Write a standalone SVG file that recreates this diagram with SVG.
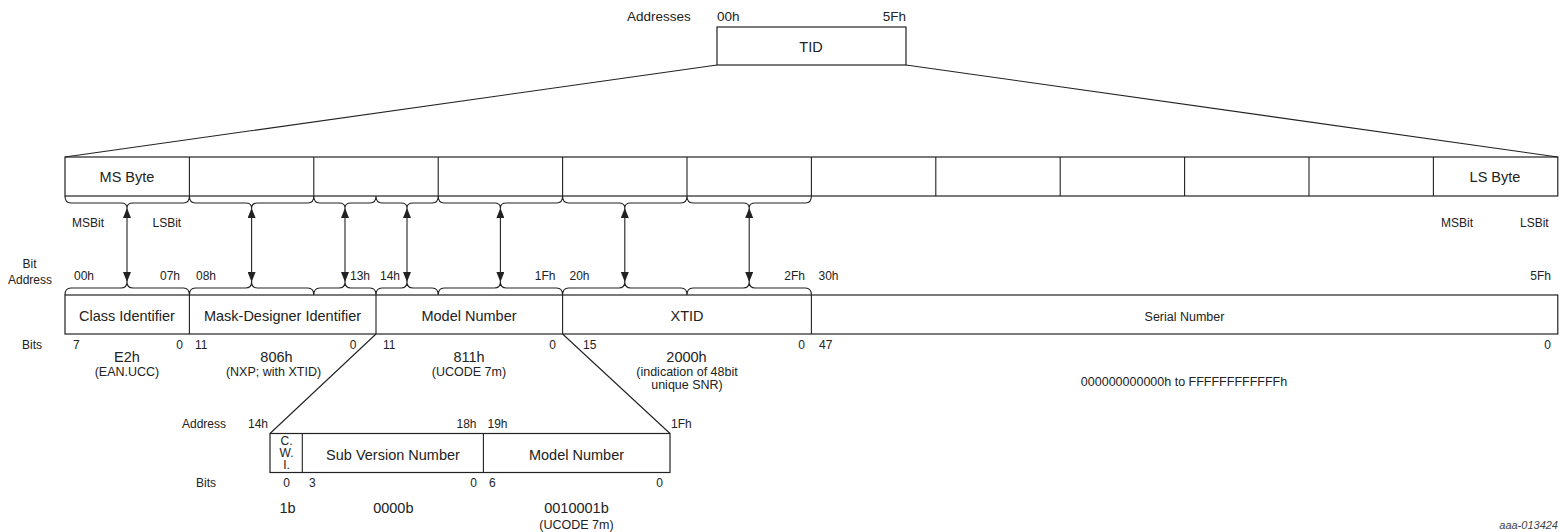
<svg xmlns="http://www.w3.org/2000/svg" width="1560" height="532" viewBox="0 0 1560 532">
<defs>
<style>
text{font-family:"Liberation Sans",Arial,sans-serif;fill:#222}
.lg{font-size:14.5px}
.md{font-size:13.5px}
.sm{font-size:12px}
.vs{font-size:12.5px}
.c{text-anchor:middle}
.e{text-anchor:end}
.box{fill:#fff;stroke:#222;stroke-width:1.2}
.ln{fill:none;stroke:#222;stroke-width:1.1}
.br{fill:none;stroke:#222;stroke-width:1.1}
.ar{stroke:#222;stroke-width:1.1;marker-start:url(#ah);marker-end:url(#ah)}
.ref{font-size:11px;font-style:italic;fill:#444}
</style>
<marker id="ah" viewBox="0 0 10 8" refX="10" refY="4" markerWidth="10" markerHeight="8" markerUnits="userSpaceOnUse" orient="auto-start-reverse">
<path d="M0,0 L10,4 L0,8 Z" fill="#222"/>
</marker>
</defs>

<g id="tid">
<text class="md" x="627" y="20.5">Addresses</text>
<text class="md" x="717" y="20.5">00h</text>
<text class="md e" x="906" y="20.5">5Fh</text>
<rect class="box" x="717" y="27" width="189" height="38"/>
<text class="lg c" x="811" y="52">TID</text>
</g>

<g id="byte-row">
<rect class="box" x="65" y="157" width="1492.8" height="39"/>
<path class="ln" d="M189.4,157V196M313.8,157V196M438.2,157V196M562.6,157V196M687,157V196M811.4,157V196M935.8,157V196M1060.2,157V196M1184.6,157V196M1309,157V196M1433.4,157V196"/>
<text class="lg c" x="127" y="182">MS Byte</text>
<text class="lg c" x="1495" y="182">LS Byte</text>
</g>

<g id="bit-labels">
<text class="sm" x="72" y="227">MSBit</text>
<text class="sm" x="152.5" y="227">LSBit</text>
<text class="sm" x="1441" y="227">MSBit</text>
<text class="sm" x="1520" y="227">LSBit</text>
<text class="sm c" x="29.5" y="268">Bit</text>
<text class="sm c" x="30" y="284">Address</text>
<text class="sm" x="74" y="280">00h</text>
<text class="sm e" x="180" y="280">07h</text>
<text class="sm" x="196" y="280">08h</text>
<text class="sm e" x="370" y="280">13h</text>
<text class="sm" x="380" y="280">14h</text>
<text class="sm e" x="555.5" y="280">1Fh</text>
<text class="sm" x="569.5" y="280">20h</text>
<text class="sm e" x="805" y="280">2Fh</text>
<text class="sm" x="818.5" y="280">30h</text>
<text class="sm e" x="1551" y="280">5Fh</text>
</g>

<g id="fields">
<rect class="box" x="65" y="295" width="1492.8" height="39"/>
<path class="ln" d="M189.4,295V334M376,295V334M562.6,295V334M811.4,295V334"/>
<text class="lg c" x="127" y="321">Class Identifier</text>
<text class="lg c" x="282.5" y="321">Mask-Designer Identifier</text>
<text class="lg c" x="469" y="321">Model Number</text>
<text class="lg c" x="687" y="321">XTID</text>
<text class="vs c" x="1184.5" y="321">Serial Number</text>
<text class="sm" x="22" y="349">Bits</text>
<text class="sm" x="73" y="349">7</text>
<text class="sm e" x="183" y="349">0</text>
<text class="sm" x="195" y="349">11</text>
<text class="sm e" x="356.5" y="349">0</text>
<text class="sm" x="383" y="349">11</text>
<text class="sm e" x="556" y="349">0</text>
<text class="sm" x="583" y="349">15</text>
<text class="sm e" x="805" y="349">0</text>
<text class="sm" x="819" y="349">47</text>
<text class="sm e" x="1551" y="349">0</text>
<text class="lg c" x="127" y="361.5">E2h</text>
<text class="vs c" x="127" y="375.5">(EAN.UCC)</text>
<text class="lg c" x="276.5" y="361.5">806h</text>
<text class="vs c" x="273.5" y="375.5">(NXP; with XTID)</text>
<text class="lg c" x="469" y="361.5">811h</text>
<text class="vs c" x="469" y="375.5">(UCODE 7m)</text>
<text class="lg c" x="686.5" y="361.5">2000h</text>
<text class="vs c" x="687" y="375.5">(indication of 48bit</text>
<text class="vs c" x="687" y="388.5">unique SNR)</text>
<text class="vs c" x="1184" y="386">000000000000h to FFFFFFFFFFFFh</text>
</g>

<g id="sub-model-number">
<text class="sm" x="182" y="427.5">Address</text>
<text class="sm e" x="268" y="427.5">14h</text>
<text class="sm e" x="476.5" y="427.5">18h</text>
<text class="sm" x="487.5" y="427.5">19h</text>
<text class="sm" x="671" y="427.5">1Fh</text>
<rect class="box" x="270" y="433.5" width="400" height="39"/>
<path class="ln" d="M302.3,433.5V472.5M483.4,433.5V472.5"/>
<text class="sm c" x="286.5" y="445">C.</text>
<text class="sm c" x="286.5" y="457">W.</text>
<text class="sm c" x="286.5" y="469">I.</text>
<text class="lg c" x="393" y="459.5">Sub Version Number</text>
<text class="lg c" x="576.5" y="459.5">Model Number</text>
<text class="sm" x="196" y="487">Bits</text>
<text class="sm c" x="286.5" y="487">0</text>
<text class="sm" x="309" y="487">3</text>
<text class="sm e" x="477" y="487">0</text>
<text class="sm" x="489" y="487">6</text>
<text class="sm e" x="663" y="487">0</text>
<text class="lg c" x="287.5" y="513">1b</text>
<text class="lg c" x="393.3" y="513">0000b</text>
<text class="lg c" x="576.5" y="513">0010001b</text>
<text class="vs c" x="576.5" y="528.5">(UCODE 7m)</text>
</g>

<g id="connectors">
<path class="ln" d="M717,65L65,157M906,65L1557.8,157"/>
<path class="ln" d="M376,334L270,433.5M562.6,334L670,433.5"/>
<path class="br" d="M65,196Q65,203 71,203L121,203Q127,203 127,208Q127,203 133,203L183.4,203Q189.4,203 189.4,196
M189.4,196Q189.4,203 195.4,203L245.6,203Q251.6,203 251.6,208Q251.6,203 257.6,203L307.8,203Q313.8,203 313.8,196
M313.8,196Q313.8,203 319.8,203L339,203Q345,203 345,208Q345,203 351,203L370,203Q376,203 376,196
M376,196Q376,203 382,203L401,203Q407,203 407,208Q407,203 413,203L432.2,203Q438.2,203 438.2,196
M438.2,196Q438.2,203 444.2,203L494.4,203Q500.4,203 500.4,208Q500.4,203 506.4,203L556.6,203Q562.6,203 562.6,196
M562.6,196Q562.6,203 568.6,203L618.8,203Q624.8,203 624.8,208Q624.8,203 630.8,203L681,203Q687,203 687,196
M687,196Q687,203 693,203L743.2,203Q749.2,203 749.2,208Q749.2,203 755.2,203L805.4,203Q811.4,203 811.4,196"/>
<path class="br" d="M65,295Q65,288 71,288L121,288Q127,288 127,282Q127,288 133,288L183.4,288Q189.4,288 189.4,295
M189.4,295Q189.4,288 195.4,288L245.6,288Q251.6,288 251.6,282Q251.6,288 257.6,288L307.8,288Q313.8,288 313.8,295
M313.8,295Q313.8,288 319.8,288L339,288Q345,288 345,282Q345,288 351,288L370,288Q376,288 376,295
M376,295Q376,288 382,288L401,288Q407,288 407,282Q407,288 413,288L432.2,288Q438.2,288 438.2,295
M438.2,295Q438.2,288 444.2,288L494.4,288Q500.4,288 500.4,282Q500.4,288 506.4,288L556.6,288Q562.6,288 562.6,295
M562.6,295Q562.6,288 568.6,288L618.8,288Q624.8,288 624.8,282Q624.8,288 630.8,288L681,288Q687,288 687,295
M687,295Q687,288 693,288L743.2,288Q749.2,288 749.2,282Q749.2,288 755.2,288L805.4,288Q811.4,288 811.4,295"/>
<line class="ar" x1="127" y1="208" x2="127" y2="282"/>
<line class="ar" x1="251.6" y1="208" x2="251.6" y2="282"/>
<line class="ar" x1="345" y1="208" x2="345" y2="282"/>
<line class="ar" x1="407" y1="208" x2="407" y2="282"/>
<line class="ar" x1="500.4" y1="208" x2="500.4" y2="282"/>
<line class="ar" x1="624.8" y1="208" x2="624.8" y2="282"/>
<line class="ar" x1="749.2" y1="208" x2="749.2" y2="282"/>
</g>

<text class="ref e" x="1558" y="529">aaa-013424</text>
</svg>
